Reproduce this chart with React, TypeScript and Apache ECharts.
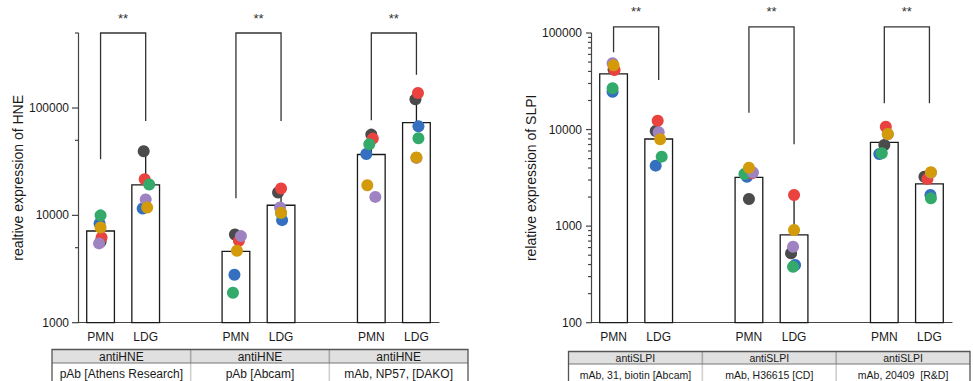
import React, { useEffect, useRef } from "react";
import * as echarts from "echarts";

// ---------- categories ----------
const categories = ["PMN", "LDG", "", "PMN", "LDG", "", "PMN", "LDG"];

// ---------- HNE (left panel) : per-donor values ----------
const hneDark = [5670, 39550, null, 6640, 16330, null, 56570, 120500];
const hneBlue = [8400, 11590, null, 2795, 9020, null, 37330, 67600];
const hneRed = [6230, 21700, null, 5790, 17790, null, 51900, 137900];
const hneGreen = [10000, 19380, null, 1900, 10500, null, 45920, 52300];
const hnePurple = [5480, 14060, null, 6410, 11840, null, 14860, 34300];
const hneGold = [7710, 11840, null, 4680, 10550, null, 19100, 34600];
const hneMean = [7250, 19500, null, 4690, 12600, null, 37400, 74100];
const hneUpper = [9050, 38000, null, 6600, 16100, null, 54600, 115000];
const hneTicks = [1000, 5000, 10000, 50000, 100000, 500000];
const hneBracketLeft = [33300, 14400, 76800];
const hneBracketRight = [75700, 75700, 204600];
const hneBracketTop = 500000;

// ---------- SLPI (right panel) : per-donor values ----------
const slpiDark = [42000, 9660, null, 1910, 523, null, 6920, 3250];
const slpiBlue = [24670, 4230, null, 3250, 396, null, 5580, 2100];
const slpiRed = [41400, 12360, null, 3530, 2100, null, 10710, 3080];
const slpiGreen = [26740, 5240, null, 3470, 380, null, 5680, 1940];
const slpiPurple = [48550, 9370, null, 3600, 612, null, 8950, 3580];
const slpiGold = [46250, 7930, null, 4030, 912, null, 8990, 3610];
const slpiMean = [38300, 8110, null, 3250, 823, null, 7480, 2780];
const slpiUpper = [48300, 11200, null, 4030, 2000, null, 9500, 3480];
const slpiTicks = [
  100, 200, 300, 400, 500, 600, 700, 800, 900,
  1000, 2000, 3000, 4000, 5000, 6000, 7000, 8000, 9000,
  10000, 20000, 30000, 40000, 50000, 60000, 70000, 80000, 90000,
  100000,
];
const slpiBracketLeft = [63100, 14950, 18700];
const slpiBracketRight = [32600, 7030, 18700];
const slpiBracketTop = 116000;

// ---------- shared ----------
const bracketPairs = [[0, 1], [3, 4], [6, 7]];
const sigLabels = ["**", "**", "**"];

const hneAntibody = ["antiHNE", "antiHNE", "antiHNE"];
const hneSource = ["pAb [Athens Research]", "pAb [Abcam]", "mAb, NP57, [DAKO]"];
const slpiAntibody = ["antiSLPI", "antiSLPI", "antiSLPI"];
const slpiSource = ["mAb, 31, biotin [Abcam]", "mAb, H36615 [CD]", "mAb, 20409  [R&D]"];

// ---------- styles (kept apart from data) ----------
const FONT = "Liberation Sans, Arial, Helvetica, sans-serif";
const donorColors = {
  dark: "#4b4b4b",
  blue: "#3470bf",
  red: "#e9423f",
  green: "#33a96a",
  purple: "#9e82c2",
  gold: "#d39b0b",
};
// horizontal jitter (px) of dots
const hneJitter = {
  dark: [0, -2, 0, -1, -3, 0, 0, -1],
  blue: [-1, -3, 0, -1.5, 1, 0, -5, 2],
  red: [1, -1, 0, 3, 0, 0, 1.5, 1.5],
  green: [0, 3.5, 0, -3, 0, 0, -2, 2],
  purple: [-1.5, 0, 0, 5, -1, 0, 4, 0],
  gold: [0, 1.5, 0, 1, 0, 0, -4, 0],
};
const slpiJitter = {
  dark: [0, -3, 0, 0, -3, 0, 0, -5],
  blue: [-1, -3, 0, -2, 1, 0, -5, 1],
  red: [1, -1, 0, 3, 0, 0, 1.5, -2],
  green: [-1, 3, 0, -4.5, -1, 0, -2.5, 1.5],
  purple: [-1, 0, 0, 4, -1, 0, 3.5, 1.5],
  gold: [0, 1.5, 0, 0, 0, 0, 3.5, 1.5],
};

const isPow10 = (v: number) => {
  const l = Math.log10(v);
  return Math.abs(l - Math.round(l)) < 1e-6;
};

function panelSeries(
  idx: number,
  donors: { key: string; values: (number | null)[] }[],
  jitter: any,
  means: (number | null)[],
  uppers: (number | null)[],
  ticks: number[],
  majorLen: number,
  bLeft: number[],
  bRight: number[],
  bTop: number
) {
  const series: any[] = [];
  // bars
  series.push({
    type: "bar",
    xAxisIndex: idx,
    yAxisIndex: idx,
    data: means.map((m) => (m == null ? "-" : m)),
    barWidth: 29,
    itemStyle: { color: "#ffffff", borderColor: "#1a1a1a", borderWidth: 1.3 },
    z: 2,
    silent: true,
  });
  // error bars (upper)
  series.push({
    type: "custom",
    xAxisIndex: idx,
    yAxisIndex: idx,
    z: 3,
    silent: true,
    data: means
      .map((m, i) => (m == null ? null : [i, m, uppers[i]]))
      .filter((d) => d != null),
    renderItem: (params: any, api: any) => {
      const p1 = api.coord([api.value(0), api.value(1)]);
      const p2 = api.coord([api.value(0), api.value(2)]);
      return {
        type: "line",
        shape: { x1: p1[0], y1: p1[1], x2: p2[0], y2: p2[1] },
        style: { stroke: "#1a1a1a", lineWidth: 1.3 },
      };
    },
  });
  // dots
  donors.forEach((d) => {
    const data: any[] = [];
    d.values.forEach((v, i) => {
      if (v != null) data.push({ value: [i, v], symbolOffset: [jitter[d.key][i], 0] });
    });
    series.push({
      type: "scatter",
      xAxisIndex: idx,
      yAxisIndex: idx,
      symbol: "circle",
      symbolSize: 12,
      itemStyle: { color: (donorColors as any)[d.key], opacity: 1 },
      data,
      z: 4,
      silent: true,
    });
  });
  // y ticks
  series.push({
    type: "custom",
    xAxisIndex: idx,
    yAxisIndex: idx,
    z: 5,
    silent: true,
    data: ticks.map((t) => [0, t]),
    renderItem: (params: any, api: any) => {
      const cs = params.coordSys;
      const v = api.value(1);
      const y = api.coord([0, v])[1];
      const len = isPow10(v) ? majorLen : 3;
      return {
        type: "line",
        shape: { x1: cs.x - len, y1: y, x2: cs.x, y2: y },
        style: { stroke: "#444", lineWidth: 1.2 },
      };
    },
  });
  // significance brackets
  series.push({
    type: "custom",
    xAxisIndex: idx,
    yAxisIndex: idx,
    z: 6,
    silent: true,
    clip: false,
    data: bracketPairs.map((p, k) => [p[0], p[1], bLeft[k], bRight[k], bTop, k]),
    renderItem: (params: any, api: any) => {
      const a = api.coord([api.value(0), api.value(2)]);
      const b = api.coord([api.value(0), api.value(4)]);
      const c = api.coord([api.value(1), api.value(4)]);
      const d = api.coord([api.value(1), api.value(3)]);
      const k = api.value(5);
      return {
        type: "group",
        children: [
          {
            type: "polyline",
            shape: { points: [a, b, c, d] },
            style: { stroke: "#333", lineWidth: 1.3, fill: null },
          },
          {
            type: "text",
            x: (b[0] + c[0]) / 2,
            y: b[1] - 15,
            style: {
              text: sigLabels[k],
              fill: "#333",
              font: `13px ${FONT}`,
              textAlign: "center",
              textVerticalAlign: "middle",
              align: "center",
              verticalAlign: "middle",
            },
          },
        ],
      };
    },
  });
  return series;
}

function tableGraphics(
  x: number,
  y: number,
  w: number,
  headerH: number,
  fontSize: number,
  rowTextDy: number,
  headers: string[],
  sources: string[]
) {
  const n = headers.length;
  const cw = w / n;
  const els: any[] = [];
  els.push({
    type: "rect",
    shape: { x, y, width: w, height: headerH },
    style: { fill: "#e0e0e0", stroke: null },
  });
  for (let i = 1; i < n; i++) {
    els.push({
      type: "line",
      shape: { x1: x + cw * i, y1: y, x2: x + cw * i, y2: y + headerH },
      style: { stroke: "#a8a8a8", lineWidth: 1.6 },
    });
    els.push({
      type: "line",
      shape: { x1: x + cw * i, y1: y + headerH, x2: x + cw * i, y2: y + 60 },
      style: { stroke: "#cfcfcf", lineWidth: 1.6 },
    });
  }
  els.push({
    type: "line",
    shape: { x1: x, y1: y + headerH, x2: x + w, y2: y + headerH },
    style: { stroke: "#777", lineWidth: 1.2 },
  });
  els.push({
    type: "rect",
    shape: { x, y, width: w, height: 60 },
    style: { fill: null, stroke: "#555", lineWidth: 1.3 },
  });
  headers.forEach((h, i) => {
    els.push({
      type: "text",
      x: x + cw * (i + 0.5),
      y: y + headerH / 2 + 0.5,
      style: {
        text: h,
        fill: "#1a1a1a",
        font: `${fontSize}px ${FONT}`,
        textAlign: "center",
        textVerticalAlign: "middle",
      },
    });
  });
  sources.forEach((s, i) => {
    els.push({
      type: "text",
      x: x + cw * (i + 0.5),
      y: y + headerH + rowTextDy,
      style: {
        text: s,
        fill: "#1a1a1a",
        font: `${fontSize}px ${FONT}`,
        textAlign: "center",
        textVerticalAlign: "middle",
      },
    });
  });
  return els;
}

const axisLineStyle = { color: "#444", width: 1.2 };

function xAxisFor(idx: number) {
  return {
    type: "category",
    gridIndex: idx,
    data: categories,
    axisLine: { lineStyle: axisLineStyle },
    axisTick: { alignWithLabel: true, interval: 0, length: 5, lineStyle: axisLineStyle },
    axisLabel: { interval: 0, fontSize: 12, color: "#1a1a1a", margin: 8, fontFamily: FONT },
    splitLine: { show: false },
  };
}

function yAxisFor(idx: number, min: number, max: number, name: string) {
  return {
    type: "log",
    logBase: 10,
    gridIndex: idx,
    min,
    max,
    name,
    nameLocation: "middle",
    nameGap: 53,
    nameTextStyle: { fontSize: 14, color: "#1a1a1a", fontFamily: FONT },
    axisLine: { show: true, lineStyle: axisLineStyle },
    axisTick: { show: false },
    minorTick: { show: false },
    splitLine: { show: false },
    axisLabel: {
      fontSize: 12,
      color: "#1a1a1a",
      margin: 9,
      fontFamily: FONT,
      formatter: (v: number) => (isPow10(v) ? String(Math.round(v)) : ""),
    },
  };
}

export default function App() {
  const ref = useRef<HTMLDivElement>(null);
  useEffect(() => {
    if (!ref.current) return;
    const chart = echarts.init(ref.current, null, { renderer: "svg" });
    const hneDonors = [
      { key: "dark", values: hneDark },
      { key: "blue", values: hneBlue },
      { key: "red", values: hneRed },
      { key: "green", values: hneGreen },
      { key: "purple", values: hnePurple },
      { key: "gold", values: hneGold },
    ];
    const slpiDonors = [
      { key: "dark", values: slpiDark },
      { key: "blue", values: slpiBlue },
      { key: "red", values: slpiRed },
      { key: "green", values: slpiGreen },
      { key: "purple", values: slpiPurple },
      { key: "gold", values: slpiGold },
    ];
    const option: any = {
      animation: false,
      backgroundColor: "#ffffff",
      textStyle: { fontFamily: FONT },
      grid: [
        { left: 78, top: 33, width: 361, height: 289.7, containLabel: false, outerBoundsMode: "none" },
        { left: 591, top: 33, width: 361, height: 289.7, containLabel: false, outerBoundsMode: "none" },
      ],
      xAxis: [xAxisFor(0), xAxisFor(1)],
      yAxis: [
        yAxisFor(0, 1000, 500000, "realtive expression of HNE"),
        yAxisFor(1, 100, 100000, "relative expression of SLPI"),
      ],
      series: [
        ...panelSeries(0, hneDonors, hneJitter, hneMean, hneUpper, hneTicks, 6,
          hneBracketLeft, hneBracketRight, hneBracketTop),
        ...panelSeries(1, slpiDonors, slpiJitter, slpiMean, slpiUpper, slpiTicks, 5,
          slpiBracketLeft, slpiBracketRight, slpiBracketTop),
      ],
      graphic: [
        ...tableGraphics(52, 349.5, 416, 13.5, 12, 10.5, hneAntibody, hneSource),
        ...tableGraphics(568.5, 351.5, 401.5, 12.5, 10.5, 11, slpiAntibody, slpiSource),
      ],
    };
    chart.setOption(option);
    return () => chart.dispose();
  }, []);
  return (
    <div
      ref={ref}
      style={{ position: "absolute", left: 0, top: 0, width: 973, height: 381, background: "#fff" }}
    />
  );
}
